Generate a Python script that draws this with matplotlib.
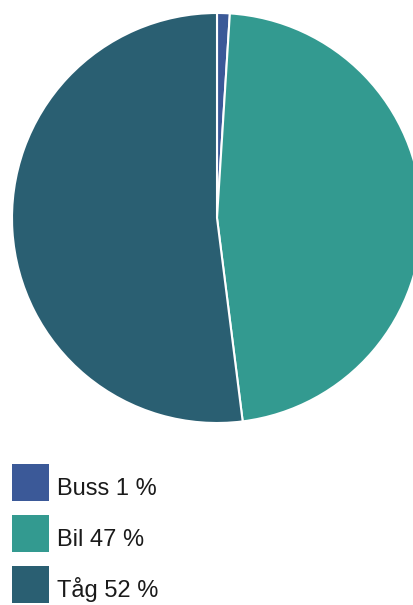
import matplotlib
matplotlib.use("Agg")
import matplotlib.pyplot as plt
from matplotlib.patches import Rectangle

categories = ["Buss", "Bil", "Tåg"]
values = [1, 47, 52]
colors = ["#3b5998", "#339a90", "#2a5f72"]

plt.rcParams['font.family'] = ["Liberation Sans", "DejaVu Sans"]

W, H = 414, 605
fig = plt.figure(figsize=(W / 100, H / 100), dpi=100)
cx, cy, r = 217, 605 - 218, 205
ax = fig.add_axes([(cx - r) / W, (cy - r) / H, 2 * r / W, 2 * r / H])
wedges, _ = ax.pie(values, colors=colors, startangle=90, counterclock=False,
                   radius=1, wedgeprops=dict(edgecolor="white", linewidth=1.5))
ax.set_xlim(-1, 1)
ax.set_ylim(-1, 1)
ax.set_aspect("equal")
ax.axis("off")
for w in wedges:
    w.set_clip_on(False)

# legend drawn in pixel coordinates (top-left origin)
for i, (c, v, col) in enumerate(zip(categories, values, colors)):
    top = 464 + 51 * i
    fig.patches.append(Rectangle((12 / W, 1 - (top + 37) / H), 37 / W, 37 / H,
                                 transform=fig.transFigure, facecolor=col,
                                 edgecolor="none"))
    fig.text(57 / W, 1 - (top + 31) / H, f"{c} {v} %", fontsize=17,
             color="#1a1a1a", ha="left", va="baseline")

fig.savefig("out.png", dpi=100)
